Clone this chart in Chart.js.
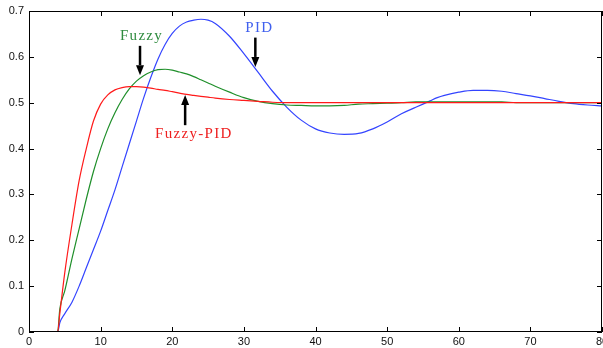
<!DOCTYPE html>
<html>
<head>
<meta charset="utf-8">
<script src="https://cdn.jsdelivr.net/npm/chart.js@4.4.1/dist/chart.umd.min.js"></script>
<style>
  html, body { margin: 0; padding: 0; background: #fff; }
  #wrap { width: 603px; height: 348px; position: relative; }
</style>
</head>
<body>
<div id="wrap"><canvas id="c"></canvas></div>
<script>
// ---- data ----
const time = [0, 4, 4.3, 5, 6, 7, 8, 9, 10, 11, 12, 13, 14, 15, 16, 17, 18, 19, 20, 21, 22, 23, 24, 25, 26, 28, 30, 32, 34, 36, 38, 40, 42, 44, 46, 48, 50, 52, 54, 56, 57, 58, 60, 62, 64, 66, 68, 70, 72, 74, 76, 78, 80];

const fuzzyPID = [0, 0, 0.04, 0.13, 0.235, 0.33, 0.4, 0.46, 0.497, 0.517, 0.528, 0.533, 0.535, 0.535, 0.534, 0.532, 0.529, 0.527, 0.524, 0.521, 0.518, 0.516, 0.514, 0.512, 0.51, 0.507, 0.505, 0.503, 0.501, 0.5, 0.5, 0.5, 0.5, 0.5, 0.5, 0.5, 0.5, 0.5, 0.5, 0.5, 0.5, 0.5, 0.5, 0.5, 0.5, 0.5, 0.5, 0.5, 0.5, 0.5, 0.5, 0.5, 0.5];

const fuzzy = [0, 0, 0.05, 0.09, 0.16, 0.225, 0.29, 0.35, 0.4, 0.443, 0.478, 0.507, 0.53, 0.547, 0.559, 0.567, 0.572, 0.573, 0.571, 0.567, 0.563, 0.557, 0.55, 0.543, 0.536, 0.523, 0.511, 0.503, 0.498, 0.495, 0.494, 0.493, 0.493, 0.494, 0.497, 0.498, 0.499, 0.5, 0.502, 0.502, 0.502, 0.502, 0.502, 0.502, 0.502, 0.502, 0.5, 0.5, 0.5, 0.5, 0.5, 0.5, 0.5];

const pid = [0, 0, 0.02, 0.04, 0.065, 0.1, 0.14, 0.18, 0.22, 0.265, 0.31, 0.36, 0.41, 0.46, 0.51, 0.555, 0.595, 0.627, 0.651, 0.667, 0.676, 0.68, 0.682, 0.68, 0.673, 0.645, 0.607, 0.566, 0.525, 0.49, 0.462, 0.443, 0.434, 0.431, 0.433, 0.443, 0.458, 0.476, 0.49, 0.504, 0.511, 0.516, 0.523, 0.527, 0.527, 0.525, 0.52, 0.515, 0.509, 0.503, 0.498, 0.495, 0.493];

const xTickLabels = ['0', '10', '20', '30', '40', '50', '60', '70', '80'];
const yTickLabels = ['0', '0.1', '0.2', '0.3', '0.4', '0.5', '0.6', '0.7'];

// annotation texts and arrows (data coordinates)
const labels = [
  { text: 'Fuzzy', x: 12.7, y: 0.637, color: '#2e8b3e' },
  { text: 'PID', x: 30.2, y: 0.654, color: '#4060ee' },
  { text: 'Fuzzy-PID', x: 17.6, y: 0.423, color: '#ee2020' }
];
const arrows = [
  { x: 15.5, from: 0.624, to: 0.56 },
  { x: 31.6, from: 0.642, to: 0.578 },
  { x: 21.8, from: 0.451, to: 0.517 }
];

const pts = arr => time.map((t, i) => ({ x: t, y: arr[i] }));

const framePlugin = {
  id: 'matlabFrame',
  afterDatasetsDraw(chart) {
    const { ctx, chartArea: a, scales: { x, y } } = chart;
    ctx.save();
    ctx.strokeStyle = '#000';
    ctx.lineWidth = 1;
    ctx.strokeRect(a.left + 0.5, a.top + 0.5, a.right - a.left - 1, a.bottom - a.top - 1);
    const L = 5;
    ctx.beginPath();
    x.ticks.forEach(t => {
      const px = Math.round(x.getPixelForValue(t.value)) + 0.5;
      ctx.moveTo(px, a.bottom); ctx.lineTo(px, a.bottom - L);
      ctx.moveTo(px, a.top); ctx.lineTo(px, a.top + L);
    });
    y.ticks.forEach(t => {
      const py = Math.round(y.getPixelForValue(t.value)) + 0.5;
      ctx.moveTo(a.left, py); ctx.lineTo(a.left + L, py);
      ctx.moveTo(a.right, py); ctx.lineTo(a.right - L, py);
    });
    ctx.stroke();
    ctx.font = '15px "Liberation Serif"';
    ctx.textBaseline = 'alphabetic';
    ctx.textAlign = 'left';
    labels.forEach(l => {
      ctx.fillStyle = l.color;
      if ('letterSpacing' in ctx) ctx.letterSpacing = '1.3px';
      ctx.fillText(l.text, x.getPixelForValue(l.x), y.getPixelForValue(l.y));
    });
    if ('letterSpacing' in ctx) ctx.letterSpacing = '0px';
    ctx.fillStyle = '#000';
    ctx.strokeStyle = '#000';
    arrows.forEach(ar => {
      const px = x.getPixelForValue(ar.x);
      const p0 = y.getPixelForValue(ar.from);
      const p1 = y.getPixelForValue(ar.to);
      const dir = Math.sign(p1 - p0);
      const head = 10;
      ctx.lineWidth = 2.5;
      ctx.beginPath();
      ctx.moveTo(px, p0);
      ctx.lineTo(px, p1 - dir * head);
      ctx.stroke();
      ctx.beginPath();
      ctx.moveTo(px, p1);
      ctx.lineTo(px - 4, p1 - dir * head);
      ctx.lineTo(px + 4, p1 - dir * head);
      ctx.closePath();
      ctx.fill();
    });
    ctx.restore();
  }
};

new Chart(document.getElementById('c'), {
  type: 'line',
  data: {
    datasets: [
      { label: 'Fuzzy-PID', data: pts(fuzzyPID), borderColor: '#ff1a1a', borderWidth: 1.2 },
      { label: 'Fuzzy', data: pts(fuzzy), borderColor: '#1f8f2a', borderWidth: 1.2 },
      { label: 'PID', data: pts(pid), borderColor: '#3344ff', borderWidth: 1.2 }
    ]
  },
  options: {
    responsive: true,
    maintainAspectRatio: false,
    animation: false,
    events: [],
    layout: { padding: { top: 11, right: 1, left: 0, bottom: 0 } },
    elements: {
      point: { radius: 0 },
      line: { cubicInterpolationMode: 'monotone', fill: false }
    },
    plugins: { legend: { display: false }, tooltip: { enabled: false } },
    scales: {
      x: {
        type: 'linear', min: 0, max: 80,
        afterFit: s => { s.height = 16; s.paddingRight = 0; s.paddingLeft = 0; },
        grid: { display: false, drawTicks: false },
        border: { display: false },
        ticks: {
          stepSize: 10, padding: 3, color: '#111',
          font: { family: '"Liberation Sans", Arial, sans-serif', size: 11 },
          maxRotation: 0, autoSkip: false,
          callback: (v, i) => xTickLabels[i]
        }
      },
      y: {
        type: 'linear', min: 0, max: 0.7,
        afterFit: s => { s.width = 29; s.paddingTop = 0; s.paddingBottom = 0; },
        grid: { display: false, drawTicks: false },
        border: { display: false },
        ticks: {
          stepSize: 0.1, padding: 5, color: '#111',
          font: { family: '"Liberation Sans", Arial, sans-serif', size: 11 },
          autoSkip: false,
          callback: (v, i) => yTickLabels[i]
        }
      }
    }
  },
  plugins: [framePlugin]
});
</script>
</body>
</html>
